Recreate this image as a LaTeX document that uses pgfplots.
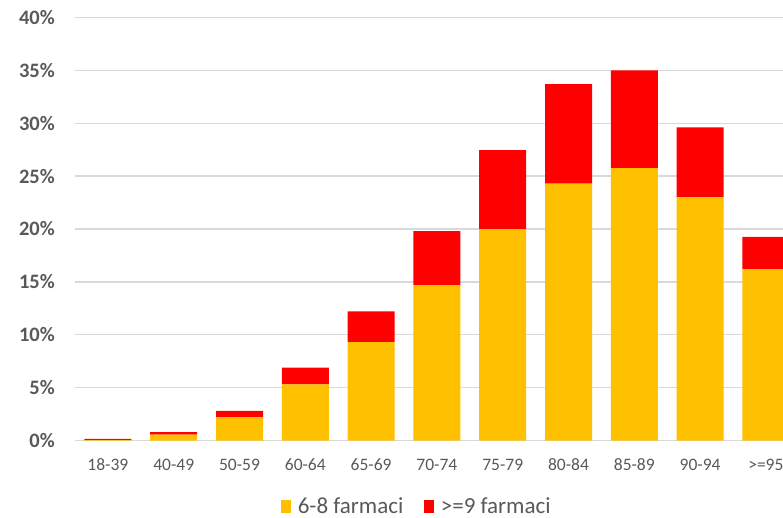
\documentclass[border=0pt]{standalone}
\usepackage{pgfplots}
\pgfplotsset{compat=1.18}
\usepackage{pgfplotstable}
\usepackage{fontspec}
\setmainfont{Carlito}
\definecolor{ygold}{HTML}{FFC000}
\definecolor{rred}{HTML}{FF0000}
\definecolor{txtgray}{HTML}{595959}
\definecolor{gridgray}{HTML}{D9D9D9}
\pgfplotstableread{
x yel red
0 0.03 0.12
1 0.55 0.25
2 2.2 0.6
3 5.3 1.6
4 9.3 2.9
5 14.7 5.1
6 20.0 7.45
7 24.3 9.4
8 25.75 9.25
9 23.0 6.6
10 16.2 3.05
}\data
\begin{document}
\begin{tikzpicture}
\useasboundingbox (-75pt,-76.5pt) rectangle (708pt,440.5pt);
\begin{axis}[
  at={(0pt,0pt)}, anchor=south west,
  scale only axis, width=708pt, height=423pt,
  ybar stacked, bar width=47pt,
  xmin=-0.5, xmax=10.26, ymin=0, ymax=40,
  xtick={0,...,10},
  xticklabels={18-39,40-49,50-59,60-64,65-69,70-74,75-79,80-84,85-89,90-94,>=95},
  ytick={0,5,...,40},
  yticklabels={0\%,5\%,10\%,15\%,20\%,25\%,30\%,35\%,40\%},
  axis line style={draw=none},
  tick style={draw=none},
  major tick length=0pt,
  ymajorgrids,
  grid style={gridgray, line width=1.3pt},
  yticklabel style={font=\fontsize{20.5}{24}\selectfont\bfseries, text=txtgray, anchor=east, inner sep=0pt, xshift=-20pt},
  xticklabel style={font=\fontsize{17.5}{21}\selectfont, text=txtgray, anchor=north, inner sep=0pt, yshift=-18pt},
  legend style={at={(0.4837,-0.1565)}, anchor=center, draw=none, fill=none,
    font=\fontsize{23}{27}\selectfont, text=txtgray,
    nodes={inner sep=3.5pt},
    legend columns=2,
    /tikz/every odd column/.append style={column sep=3pt},
    /tikz/every even column/.append style={column sep=17pt}},
  legend image code/.code={\fill[#1] (0pt,-6.5pt) rectangle (10.5pt,6.5pt);},
]
\addplot[fill=ygold, draw=none] table[x=x, y=yel] {\data};
\addplot[fill=rred, draw=none] table[x=x, y=red] {\data};
\legend{6-8 farmaci, >=9 farmaci}
\end{axis}
\end{tikzpicture}
\end{document}
